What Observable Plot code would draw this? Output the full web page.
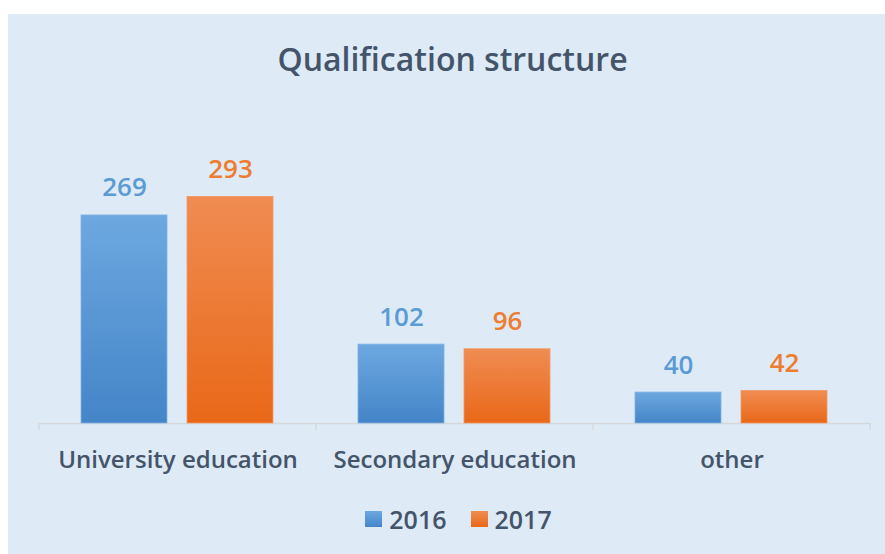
<!DOCTYPE html>
<html>
<head>
<meta charset="utf-8">
<script src="https://cdn.jsdelivr.net/npm/d3@7"></script>
<script src="https://cdn.jsdelivr.net/npm/@observablehq/plot@0.6"></script>
<style>
  html, body { margin: 0; padding: 0; background: #ffffff; width: 885px; height: 554px; overflow: hidden; }
  #panel { position: absolute; left: 8px; top: 14px; width: 877px; height: 540px; background: #DEEAF6; }
  #title { position: absolute; left: 0; top: 37px; width: 885px; text-align: center; padding-left: 20px; box-sizing: border-box;
           font-family: "Open Sans", sans-serif; font-weight: 600; font-size: 32px; line-height: 44px; color: #44546A; }
  #chart { position: absolute; left: 0; top: 130px; }
  #legend { position: absolute; left: 0; top: 502px; width: 885px; display: flex; justify-content: center; padding-left: 32px; box-sizing: border-box;
            font-family: "Open Sans", sans-serif; font-weight: 600; font-size: 25px; line-height: 34px; color: #44546A; }
  .item { display: flex; align-items: center; margin: 0 12px; }
  .sw { width: 17px; height: 16px; margin-right: 7px; }
</style>
</head>
<body>
<div id="panel"></div>
<div id="title">Qualification structure</div>
<div id="chart"></div>
<div id="legend"></div>
<script>
const categories = ["University education", "Secondary education", "other"];
const years = [2016, 2017];
const values2016 = [269, 102, 40];
const values2017 = [293, 96, 42];
const yearColors = ["#5B9BD5", "#ED7D31"];

const data = [];
categories.forEach((c, i) => {
  data.push({category: c, year: years[0], value: values2016[i]});
  data.push({category: c, year: years[1], value: values2017[i]});
});

const chart = Plot.plot({
  width: 885,
  height: 350,
  marginLeft: 38,
  marginRight: 15,
  marginTop: 61,
  marginBottom: 57,
  style: {background: "transparent", fontFamily: "Open Sans, sans-serif"},
  fx: {domain: categories, padding: 0, label: null, axis: "bottom", tickSize: 0, tickPadding: 27},
  x: {domain: years, axis: null, paddingInner: 0.19, paddingOuter: 0.4, align: 0.49},
  y: {domain: [0, 300], axis: null},
  marks: [
    Plot.ruleY([0], {stroke: "#D6D9DC", strokeWidth: 1.5}),
    Plot.barY(data.filter(d => d.year === years[0]), {fx: "category", x: "year", y: "value", fill: "url(#gBlue)", stroke: "#7FB2E3", strokeWidth: 0.8}),
    Plot.barY(data.filter(d => d.year === years[1]), {fx: "category", x: "year", y: "value", fill: "url(#gOrange)", stroke: "#F29A66", strokeWidth: 0.8}),
    Plot.text(data.filter(d => d.year === years[0]), {fx: "category", x: "year", y: "value", text: d => String(d.value), lineAnchor: "bottom", dy: -19, fill: yearColors[0], fontSize: 26, fontWeight: 600}),
    Plot.text(data.filter(d => d.year === years[1]), {fx: "category", x: "year", y: "value", text: d => String(d.value), lineAnchor: "bottom", dy: -19, fill: yearColors[1], fontSize: 26, fontWeight: 600})
  ]
});

// gradients
const svg = d3.select(chart);
const defs = svg.insert("defs", ":first-child");
const gb = defs.append("linearGradient").attr("id", "gBlue").attr("x1", 0).attr("y1", 0).attr("x2", 0).attr("y2", 1);
gb.append("stop").attr("offset", "0%").attr("stop-color", "#6DA8E0");
gb.append("stop").attr("offset", "100%").attr("stop-color", "#4485C8");
const go = defs.append("linearGradient").attr("id", "gOrange").attr("x1", 0).attr("y1", 0).attr("x2", 0).attr("y2", 1);
go.append("stop").attr("offset", "0%").attr("stop-color", "#F08C52");
go.append("stop").attr("offset", "100%").attr("stop-color", "#E96818");

// category axis styling
svg.selectAll("[aria-label='fx-axis tick label']")
  .attr("fill", "#44546A").attr("font-size", 24).attr("font-weight", 600)
  .style("font-size", "24px").style("font-weight", 600);
svg.selectAll("[aria-label='fx-axis tick label'] text").style("font-size", "24px");

// boundary ticks on the category axis
const fx = chart.scale("fx");
const ys = chart.scale("y");
const y0 = ys.apply(0);
const bounds = categories.map(c => fx.apply(c)).concat([fx.apply(categories[categories.length - 1]) + fx.bandwidth]);
svg.append("g").selectAll("line").data(bounds).join("line")
  .attr("x1", d => d).attr("x2", d => d)
  .attr("y1", y0).attr("y2", y0 + 7)
  .attr("stroke", "#D6D9DC").attr("stroke-width", 1.5);

document.getElementById("chart").appendChild(chart);

// legend
const legend = document.getElementById("legend");
years.forEach((yr, i) => {
  const item = document.createElement("div");
  item.className = "item";
  const sw = document.createElement("div");
  sw.className = "sw";
  sw.style.background = i === 0 ? "linear-gradient(#6DA8E0, #4485C8)" : "linear-gradient(#F08C52, #E96818)";
  const t = document.createElement("span");
  t.textContent = String(yr);
  item.appendChild(sw); item.appendChild(t);
  legend.appendChild(item);
});
</script>
</body>
</html>
